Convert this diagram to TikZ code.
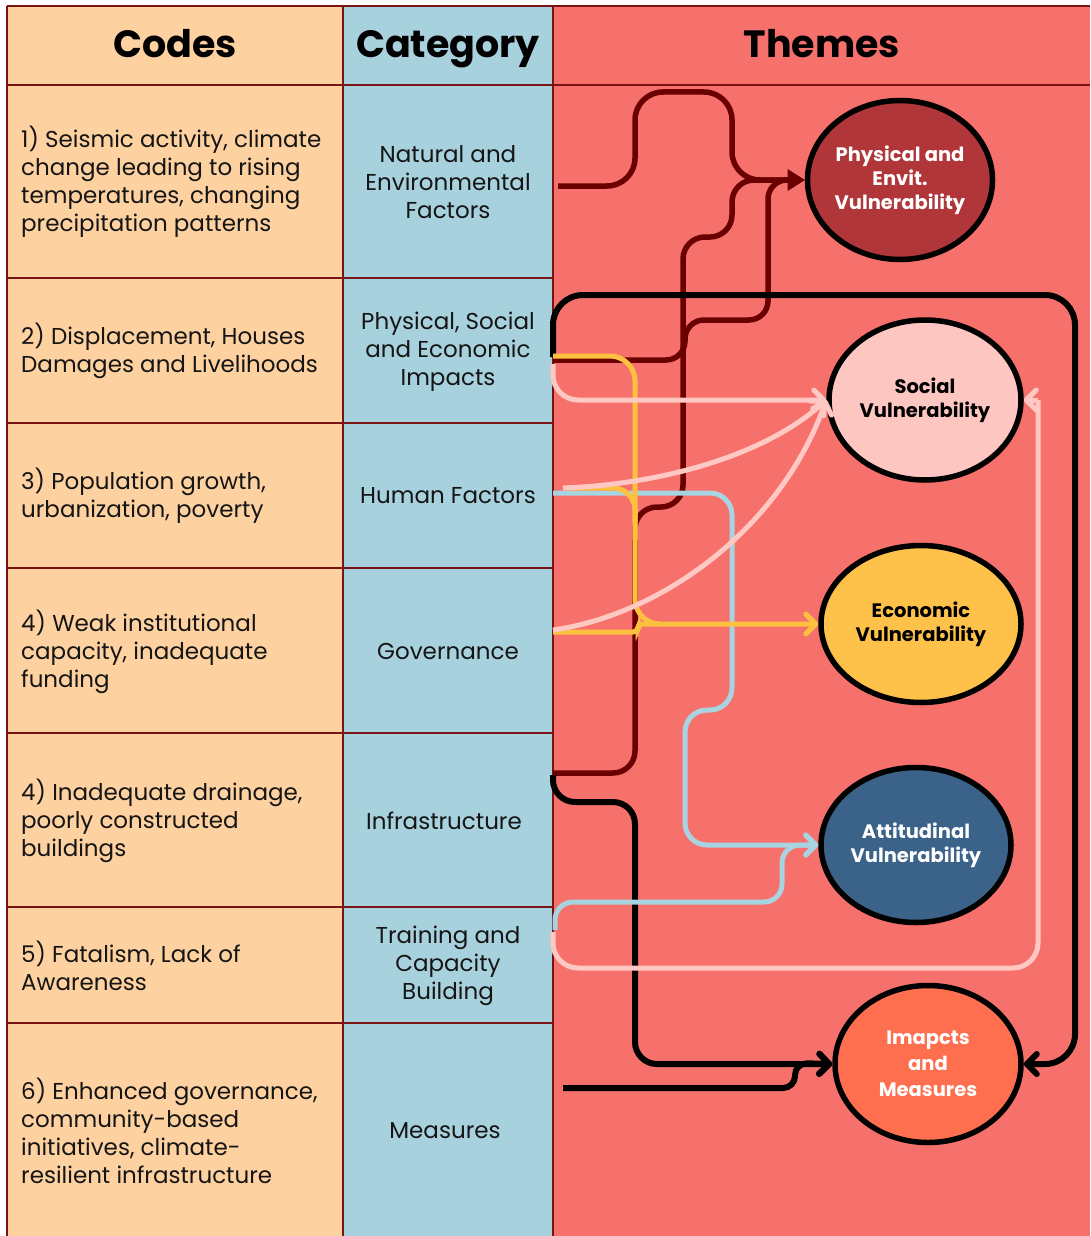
\documentclass[tikz,border=0pt]{standalone}
\usepackage{fontspec}
\setmainfont{Poppins}
\usetikzlibrary{arrows.meta,shapes.geometric}
\definecolor{peach}{HTML}{FDD1A0}
\definecolor{catblue}{HTML}{A8D1DE}
\definecolor{themered}{HTML}{F7716C}
\definecolor{border}{HTML}{7A1414}
\definecolor{darkline}{HTML}{6A0000}
\definecolor{physfill}{HTML}{B0363A}
\definecolor{socfill}{HTML}{FEC6C1}
\definecolor{econfill}{HTML}{FEC14A}
\definecolor{attfill}{HTML}{3B6389}
\definecolor{impfill}{HTML}{FD6F4F}
\definecolor{pinkline}{HTML}{FFC8C2}
\definecolor{yellowline}{HTML}{FDC13F}
\definecolor{blueline}{HTML}{A8D3E0}
\definecolor{txtblack}{HTML}{151515}
\begin{document}
\begin{tikzpicture}[x=1pt,y=-1pt,
  bodytxt/.style={font=\fontsize{23}{28}\selectfont, text=txtblack, inner sep=0pt},
  codetxt/.style={bodytxt, anchor=west, align=left},
  cattxt/.style={bodytxt, align=center},
  headtxt/.style={font=\fontsize{38}{40}\selectfont\bfseries, text=black, inner sep=0pt, anchor=base},
  vuln/.style={ellipse, draw=black, line width=5.5pt, align=center, inner sep=0pt,
    font=\fontsize{19.5}{24}\selectfont\bfseries},
  barb/.tip={Straight Barb[length=10pt,width=20pt,round]},
  drl/.style={draw=darkline, line width=5.5pt, rounded corners=28, -{Triangle[length=17pt,width=20pt]}},
  blk/.style={draw=black, line width=6pt, -barb},
  pnk/.style={draw=pinkline, line width=5pt, -barb},
  pnkplain/.style={draw=pinkline, line width=5pt},
  ylw/.style={draw=yellowline, line width=5pt, -barb},
  ylwplain/.style={draw=yellowline, line width=5pt},
  blu/.style={draw=blueline, line width=5pt, -barb},
  grid/.style={draw=border, line width=2pt}
]
\useasboundingbox (0,0) rectangle (1090,1236);
\fill[white] (0,0) rectangle (1090,1236);
% columns
\fill[peach] (7,6) rectangle (343,1236);
\fill[catblue] (343,6) rectangle (553,1236);
\fill[themered] (553,6) rectangle (1090,1236);
% grid lines
\draw[grid] (7,6) -- (1090,6);
\draw[grid] (7,85) -- (1090,85);
\foreach \yy in {278,423,568,733,907,1023} { \draw[grid] (7,\yy) -- (553,\yy); }
\draw[grid] (7,6) -- (7,1236);
\draw[grid] (343,6) -- (343,1236);
\draw[grid] (553,6) -- (553,1236);

% headers
\node[headtxt] (hcodes) at (175,58) {Codes};
\node[headtxt] (hcat) at (448,58) {Category};
\node[headtxt] (hthemes) at (822,58) {Themes};

% codes
\node[codetxt] (code1) at (21,182) {1) Seismic activity, climate\\change leading to rising\\temperatures, changing\\precipitation patterns};
\node[codetxt] (code2) at (21,351) {2) Displacement, Houses\\Damages and Livelihoods};
\node[codetxt] (code3) at (21,496) {3) Population growth,\\urbanization, poverty};
\node[codetxt] (code4) at (21,652) {4) Weak institutional\\capacity, inadequate\\funding};
\node[codetxt] (code5) at (21,821) {4) Inadequate drainage,\\poorly constructed\\buildings};
\node[codetxt] (code6) at (21,966) {5) Fatalism, Lack of\\Awareness};
\node[codetxt] (code7) at (21,1131) {6) Enhanced governance,\\community-based\\initiatives, climate-\\resilient infrastructure};

% categories
\node[cattxt] (cat1) at (448,182) {Natural and\\Environmental\\Factors};
\node[cattxt] (cat2) at (448,352) {Physical, Social\\and Economic\\Impacts};
\node[cattxt] (cat3) at (448,496) {Human Factors};
\node[cattxt] (cat4) at (448,651) {Governance};
\node[cattxt] (cat5) at (444,821) {Infrastructure};
\node[cattxt] (cat6) at (448,966) {Training and\\Capacity\\Building};
\node[cattxt] (cat7) at (445,1131) {Measures};

% theme ellipses
\node[vuln, fill=physfill, text=white, minimum width=185pt, minimum height=159pt] (phys) at (900,180) {Physical and\\Envit.\\Vulnerability};
\node[vuln, fill=socfill, text=black, minimum width=192pt, minimum height=160pt] (soc) at (925,400) {Social\\Vulnerability};
\node[vuln, fill=econfill, text=black, minimum width=200pt, minimum height=157pt] (econ) at (921,624) {Economic\\Vulnerability};
\node[vuln, fill=attfill, text=white, minimum width=190pt, minimum height=155pt] (att) at (916,845) {Attitudinal\\Vulnerability};
\node[vuln, fill=impfill, text=white, minimum width=186pt, minimum height=157pt, font=\fontsize{19.5}{26}\selectfont\bfseries] (imp) at (928,1064) {Imapcts\\and\\Measures};

% connector start points
\coordinate (aN) at (558,186);
\coordinate (aP) at (553,360);
\coordinate (aI) at (553,773);
\coordinate (kP) at (553,357);
\coordinate (kI) at (553,775);
\coordinate (kM) at (563,1088);
\coordinate (pP) at (553,364);
\coordinate (pH) at (563,488);
\coordinate (pG) at (553,630);
\coordinate (pT) at (553,932);
\coordinate (pTurn) at (1038,400);
\coordinate (yP) at (553,356);
\coordinate (yH) at (567,488);
\coordinate (yG) at (553,632);
\coordinate (bH) at (553,493);
\coordinate (bT) at (555,930);

% dark red connectors
\draw[drl] (aN) -| (635,92) -| (732,180) -- (phys.west);
\draw[drl, rounded corners=22] (aI) -| (635,507) -| (683,237) -| (732,180) -- (phys.west);
\draw[drl, rounded corners=19] (aP) -| (685,320) -| (768,180) -- (phys.west);

% black connectors
\draw[blk, rounded corners=30] (kP) |- (1075,295) |- (imp.east);
\draw[blk, rounded corners=22] (kI) |- (635,802) |- (imp.west);
\draw[blk, rounded corners=12] (kM) -| (795,1063) -- (imp.west);

% blue connectors
\draw[blu, rounded corners=22] (bH) -| (732,710) -| (685,845) -- (att.west);
\draw[blu, rounded corners=18] (bT) |- (782,902) |- (att.west);

% yellow connectors
\draw[ylw, rounded corners=25] (yP) -| (635,624) -- (econ.west);
\draw[ylwplain, rounded corners=22] (yH) -| (635,540);
\draw[ylwplain, rounded corners=5] (yG) -| (638,624) -- (660,624);

% pink connectors
\draw[pnk, rounded corners=25] (pP) |- (soc.west);
\draw[pnk] (pH) .. controls (650,485) and (760,460) .. (soc.west);
\draw[pnk] (pG) .. controls (660,615) and (780,530) .. (soc.west);
\draw[pnkplain, rounded corners=25] (pT) |- (1038,968) -- (pTurn);
\draw[pnk] (pTurn) -- (soc.east);
\end{tikzpicture}
\end{document}
